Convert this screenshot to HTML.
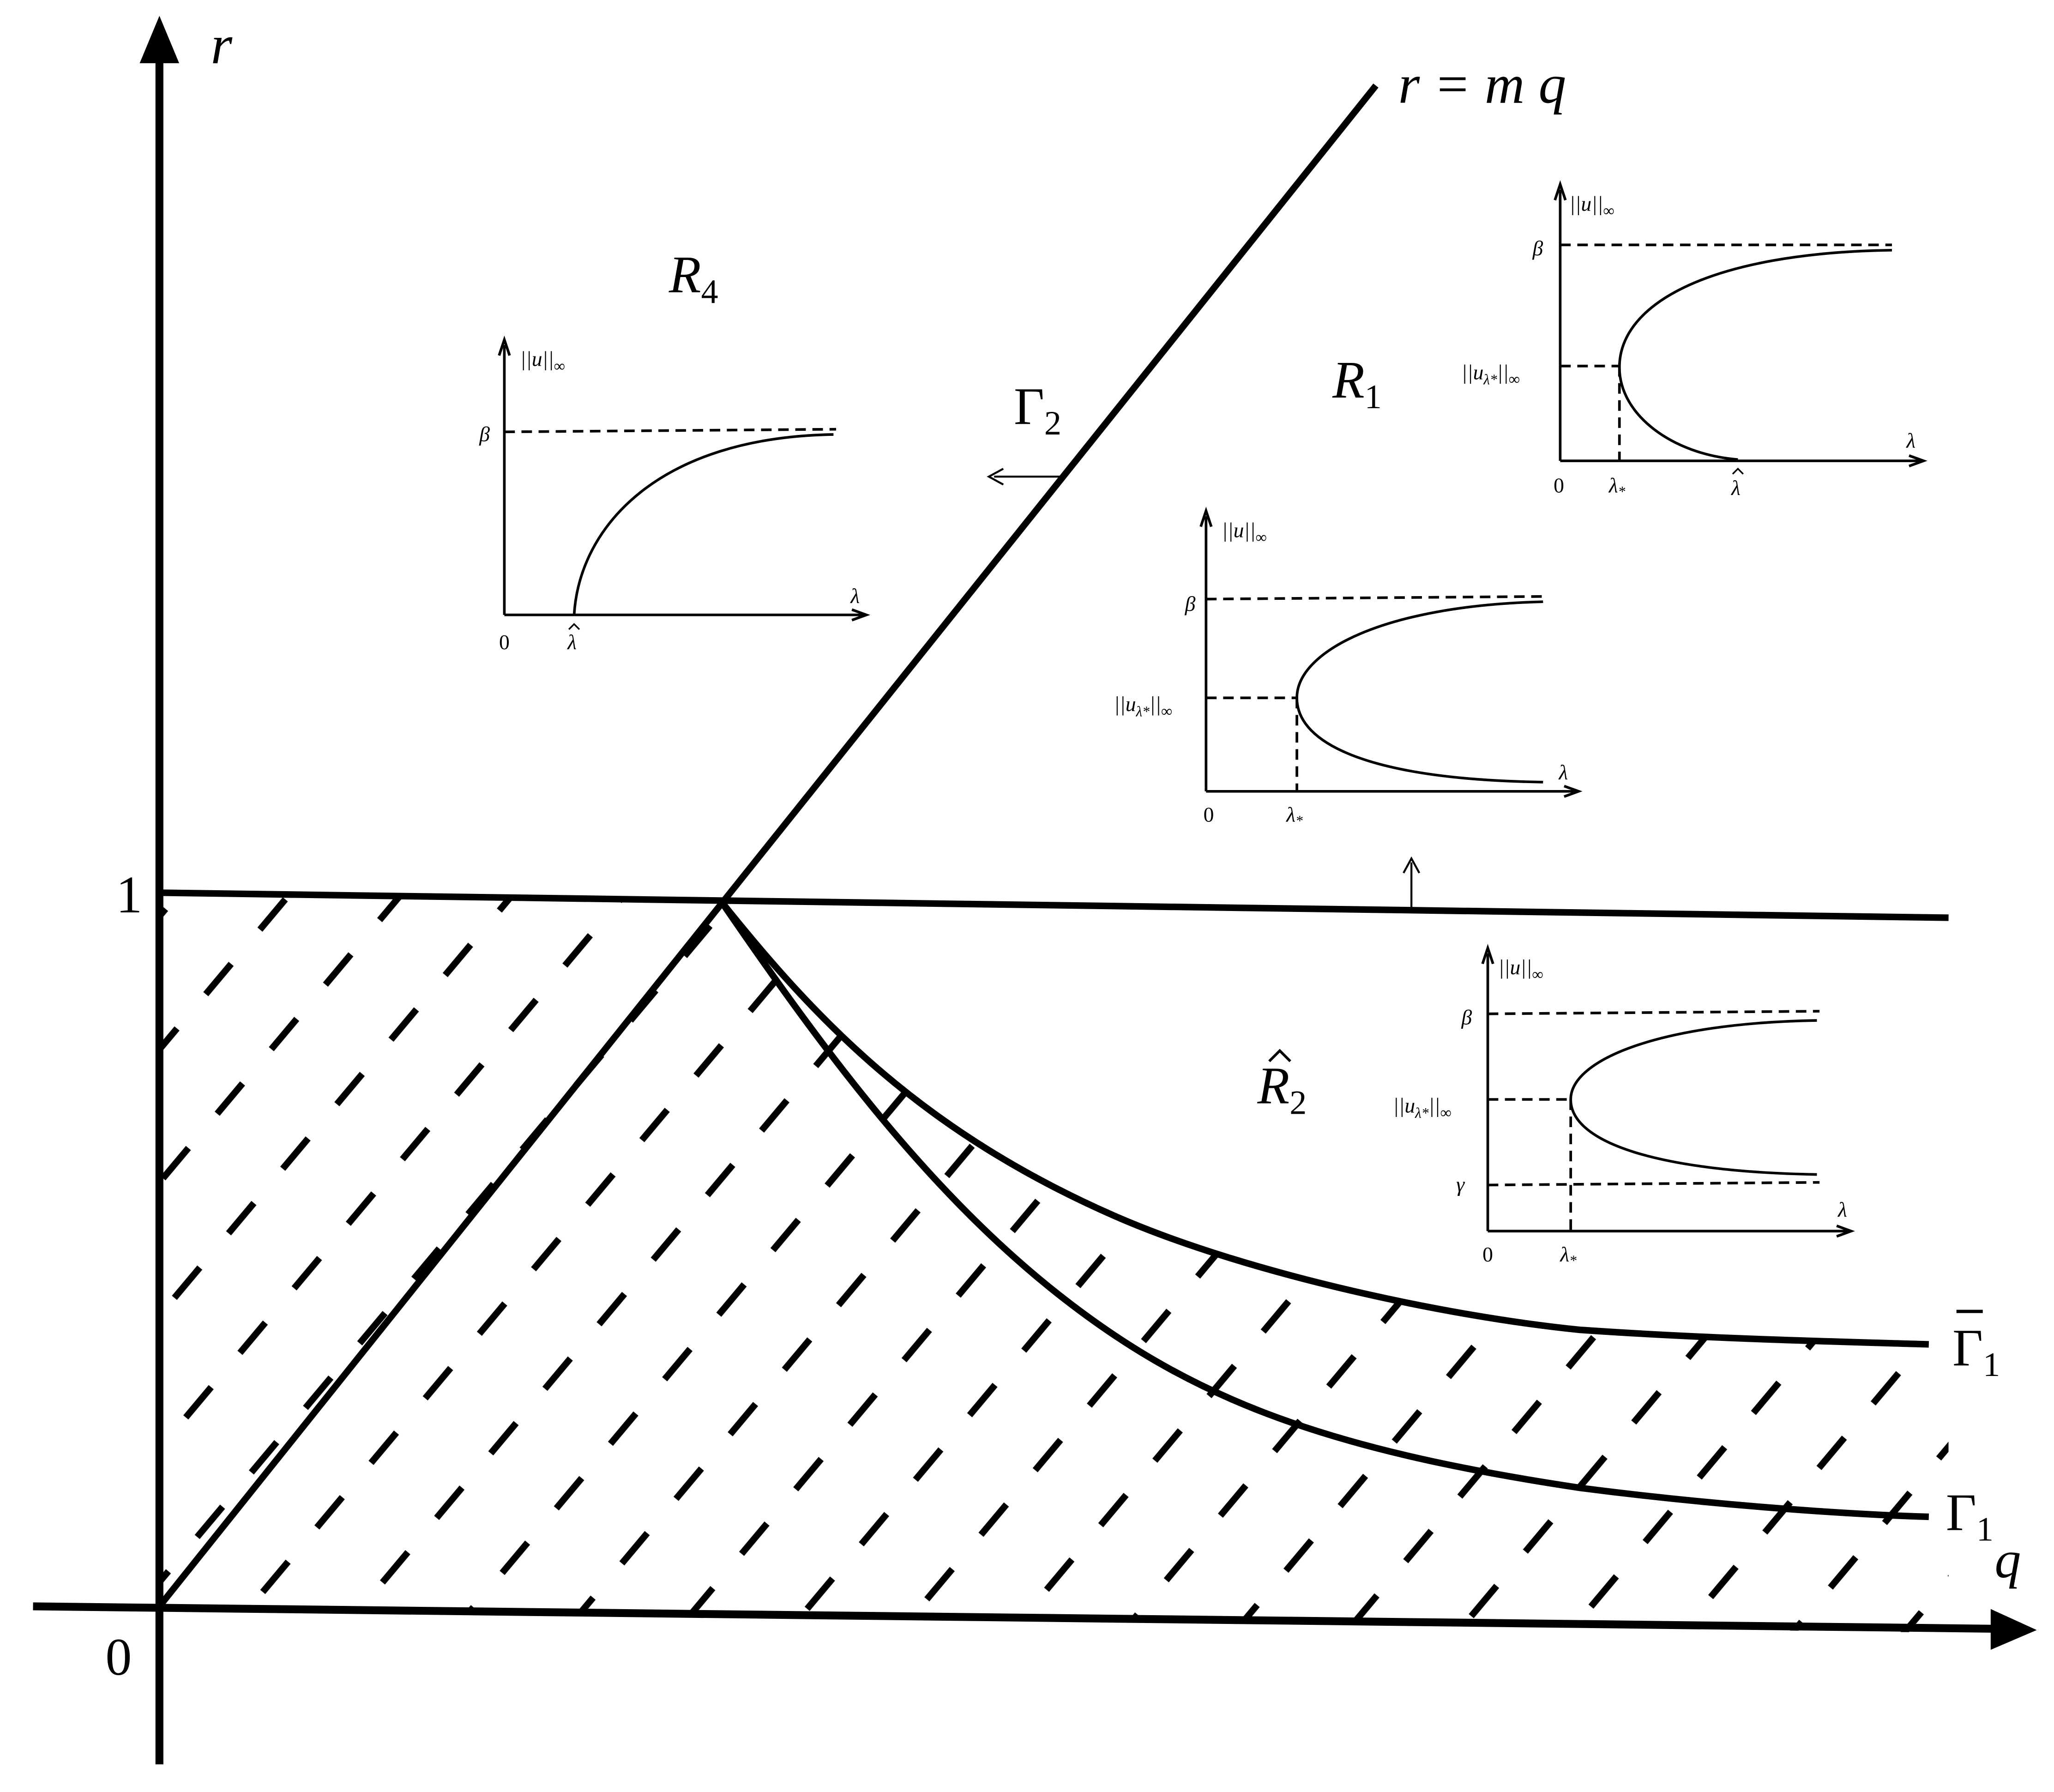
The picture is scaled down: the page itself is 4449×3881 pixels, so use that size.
<!DOCTYPE html>
<html><head><meta charset="utf-8"><style>
html,body{margin:0;padding:0;background:#fff}
svg{display:block}
text{font-family:"Liberation Serif",serif;fill:#000}
.it{font-style:italic}
</style></head><body>
<svg width="4449" height="3881" viewBox="0 0 1560 1361" xmlns="http://www.w3.org/2000/svg">
<defs>
<pattern id="h" width="65" height="64" patternUnits="userSpaceOnUse" patternTransform="rotate(40)">
<line x1="20" y1="0" x2="20" y2="30" stroke="#000" stroke-width="5"/>
</pattern>
<clipPath id="c">
<path d="M121,678 L548,685 C620,775 700,860 850,925 C950,968 1100,1000 1200,1010 C1300,1017 1400,1019 1480,1021 L1480,1240 L121,1222 Z"/>
</clipPath>
</defs>
<rect x="0" y="0" width="1560" height="1361" fill="url(#h)" clip-path="url(#c)"/>

<line x1="121" y1="1340" x2="121" y2="40" stroke="#000" stroke-width="6"/>
<polygon points="121,12 106,48 136,48" fill="#000"/>
<line x1="25" y1="1220" x2="1515" y2="1237" stroke="#000" stroke-width="6"/>
<polygon points="1547,1238 1512,1222 1512,1253" fill="#000"/>

<line x1="121" y1="1220" x2="1045" y2="65" stroke="#000" stroke-width="5"/>
<line x1="121" y1="678" x2="1480" y2="697" stroke="#000" stroke-width="5"/>
<path d="M548,685 C620,775 700,860 850,925 C950,968 1100,1000 1200,1010 C1300,1017 1400,1019 1465,1021" fill="none" stroke="#000" stroke-width="5"/>
<path d="M548,685 C620,790 700,900 800,980 C900,1060 1000,1100 1200,1130 C1300,1143 1400,1150 1465,1152" fill="none" stroke="#000" stroke-width="5"/>

<line x1="805" y1="362" x2="755" y2="362" stroke="#000" stroke-width="1.5"/>
<path d="M762,356 L751,362 L762,368" fill="none" stroke="#000" stroke-width="1.5"/>
<line x1="1072" y1="690" x2="1072" y2="655" stroke="#000" stroke-width="1.5"/>
<path d="M1066,663 L1072,652 L1078,663" fill="none" stroke="#000" stroke-width="1.5"/>

<text x="160" y="48" font-size="42" class="it">r</text>
<text x="1062" y="78" font-size="42" class="it">r = m q</text>
<text x="508" y="222" font-size="40" class="it">R<tspan font-size="26" dy="8" font-style="normal">4</tspan></text>
<text x="770" y="322" font-size="40">Γ<tspan font-size="26" dy="8">2</tspan></text>
<text x="1012" y="302" font-size="40" class="it">R<tspan font-size="26" dy="8" font-style="normal">1</tspan></text>
<text x="955" y="838" font-size="40" class="it">R<tspan font-size="26" dy="8" font-style="normal">2</tspan></text>
<path d="M964,806 L972,798 L980,806" fill="none" stroke="#000" stroke-width="2"/>
<text x="1483" y="1037" font-size="40">Γ<tspan font-size="26" dy="8">1</tspan></text>
<line x1="1486" y1="996" x2="1506" y2="996" stroke="#000" stroke-width="2.5"/>
<text x="1478" y="1162" font-size="40">Γ<tspan font-size="26" dy="8">1</tspan></text>
<text x="1515" y="1198" font-size="40" class="it">q</text>
<text x="88" y="693" font-size="40">1</text>
<text x="80" y="1272" font-size="40">0</text>

<!-- inset A -->
<g stroke="#000" fill="none" stroke-width="2">
<line x1="383" y1="467" x2="383" y2="262"/><path d="M379,270 L383,258 L387,270"/>
<line x1="383" y1="467" x2="655" y2="467"/><path d="M647,463 L658,467 L647,471"/>
<line x1="383" y1="328" x2="635" y2="326" stroke-dasharray="8,5"/>
<path d="M436,467 C440,400 500,332 633,330"/>
<path d="M432,478 L436,474 L440,478" stroke-width="1.2"/>
</g>
<g font-size="16" class="it">
<text x="395" y="278">||u||<tspan font-size="12" dy="4" font-style="normal">∞</tspan></text>
<text x="364" y="335">β</text>
<text x="646" y="458">λ</text>
<text x="431" y="493">λ</text>
</g>
<text x="379" y="493" font-size="16">0</text>

<!-- inset B -->
<g stroke="#000" fill="none" stroke-width="2">
<line x1="1185" y1="350" x2="1185" y2="144"/><path d="M1181,152 L1185,140 L1189,152"/>
<line x1="1185" y1="350" x2="1458" y2="350"/><path d="M1450,346 L1461,350 L1450,354"/>
<line x1="1185" y1="186" x2="1437" y2="186" stroke-dasharray="8,5"/>
<line x1="1185" y1="278" x2="1230" y2="278" stroke-dasharray="8,5"/>
<line x1="1230" y1="278" x2="1230" y2="350" stroke-dasharray="8,5"/>
<path d="M1437,190 C1300,192 1230,230 1230,279 C1230,315 1270,345 1320,349"/>
<path d="M1316,360 L1320,356 L1324,360" stroke-width="1.2"/>
</g>
<g font-size="16" class="it">
<text x="1192" y="160">||u||<tspan font-size="12" dy="4" font-style="normal">∞</tspan></text>
<text x="1164" y="194">β</text>
<text x="1110" y="288">||u<tspan font-size="11" dy="4">λ*</tspan><tspan dy="-4">||</tspan><tspan font-size="12" dy="4" font-style="normal">∞</tspan></text>
<text x="1448" y="340">λ</text>
<text x="1222" y="374">λ<tspan font-size="11" dy="3">*</tspan></text>
<text x="1315" y="376">λ</text>
</g>
<text x="1180" y="374" font-size="16">0</text>

<!-- inset C -->
<g stroke="#000" fill="none" stroke-width="2">
<line x1="916" y1="601" x2="916" y2="392"/><path d="M912,400 L916,388 L920,400"/>
<line x1="916" y1="601" x2="1196" y2="601"/><path d="M1188,597 L1199,601 L1188,605"/>
<line x1="916" y1="455" x2="1172" y2="453" stroke-dasharray="8,5"/>
<line x1="916" y1="530" x2="985" y2="530" stroke-dasharray="8,5"/>
<line x1="985" y1="530" x2="985" y2="601" stroke-dasharray="8,5"/>
<path d="M1172,457 C1050,460 985,495 985,530 C985,565 1040,592 1172,594"/>
</g>
<g font-size="16" class="it">
<text x="928" y="408">||u||<tspan font-size="12" dy="4" font-style="normal">∞</tspan></text>
<text x="900" y="464">β</text>
<text x="846" y="540">||u<tspan font-size="11" dy="4">λ*</tspan><tspan dy="-4">||</tspan><tspan font-size="12" dy="4" font-style="normal">∞</tspan></text>
<text x="1184" y="592">λ</text>
<text x="977" y="624">λ<tspan font-size="11" dy="3">*</tspan></text>
</g>
<text x="914" y="624" font-size="16">0</text>

<!-- inset D -->
<g stroke="#000" fill="none" stroke-width="2">
<line x1="1130" y1="935" x2="1130" y2="724"/><path d="M1126,732 L1130,720 L1134,732"/>
<line x1="1130" y1="935" x2="1403" y2="935"/><path d="M1395,931 L1406,935 L1395,939"/>
<line x1="1130" y1="770" x2="1382" y2="768" stroke-dasharray="8,5"/>
<line x1="1130" y1="835" x2="1193" y2="835" stroke-dasharray="8,5"/>
<line x1="1193" y1="835" x2="1193" y2="935" stroke-dasharray="8,5"/>
<line x1="1130" y1="900" x2="1382" y2="898" stroke-dasharray="8,5"/>
<path d="M1380,775 C1260,777 1193,805 1193,835 C1193,868 1260,890 1380,892"/>
</g>
<g font-size="16" class="it">
<text x="1138" y="740">||u||<tspan font-size="12" dy="4" font-style="normal">∞</tspan></text>
<text x="1110" y="778">β</text>
<text x="1058" y="845">||u<tspan font-size="11" dy="4">λ*</tspan><tspan dy="-4">||</tspan><tspan font-size="12" dy="4" font-style="normal">∞</tspan></text>
<text x="1106" y="905">γ</text>
<text x="1396" y="924">λ</text>
<text x="1185" y="958">λ<tspan font-size="11" dy="3">*</tspan></text>
</g>
<text x="1126" y="958" font-size="16">0</text>
</svg>
</body></html>
